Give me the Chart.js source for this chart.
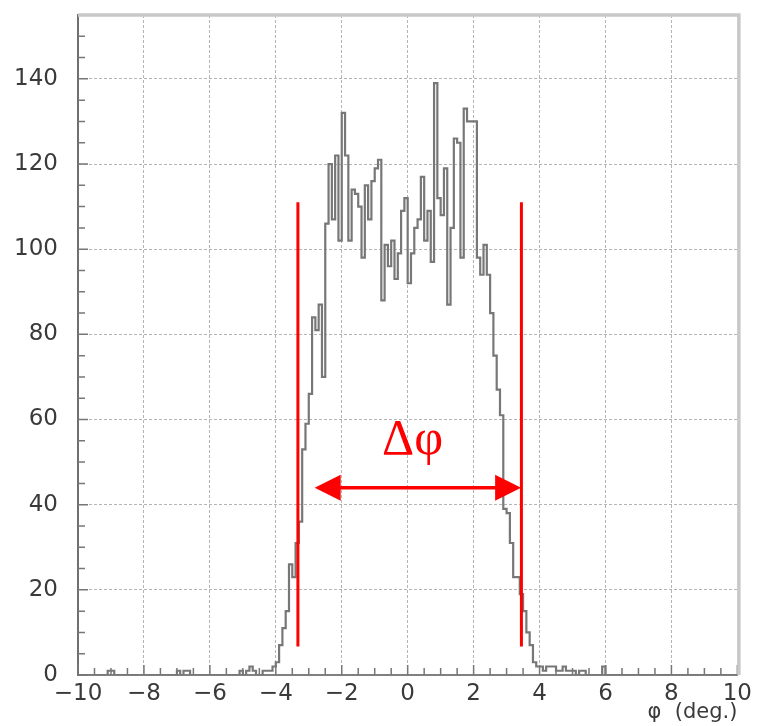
<!DOCTYPE html>
<html lang="en">

<head>
    <meta charset="UTF-8">
    <title>phi distribution</title>
    <style>
        html, body { margin: 0; padding: 0; background: #fff; }
        canvas { display: block; }
    </style>
</head>

<body>
    <script src="https://cdn.jsdelivr.net/npm/chart.js"></script>
    <canvas id="doThi" width="757" height="726"></canvas>
    <script>
        // histogram: 200 bins of 0.1 deg, from -10 to 10
        const binStart = -10;
        const binWidth = 0.1;
        const counts = [
            0, 0, 0, 0, 0, 0, 0, 0, 0, 0,           // -10.0 .. -9.1
            1, 1, 0, 0, 0, 0, 0, 0, 0, 0,           // -9.0 .. -8.1
            0, 0, 0, 0, 0, 0, 0, 0, 0, 0,           // -8.0 .. -7.1
            0, 1, 0, 1, 1, 0, 0, 0, 0, 0,           // -7.0 .. -6.1
            0, 0, 0, 0, 0, 0, 0, 0, 0, 0,           // -6.0 .. -5.1
            1, 0, 1, 2, 1, 0, 0, 1, 1, 1,           // -5.0 .. -4.1
            2, 3, 7, 11, 15, 26, 23, 31, 36, 53,    // -4.0 .. -3.1
            59, 66, 84, 81, 87, 70, 106, 120, 107, 122, // -3.0 .. -2.1
            102, 132, 122, 102, 114, 113, 110, 98, 115, 107, // -2.0 .. -1.1
            116, 119, 121, 88, 101, 96, 102, 93, 99, 109,    // -1.0 .. -0.1
            112, 92, 99, 105, 107, 117, 102, 109, 97, 139,   // 0.0 .. 0.9
            112, 108, 119, 87, 105, 126, 125, 98, 133, 130,  // 1.0 .. 1.9
            130, 130, 98, 94, 101, 94, 85, 75, 67, 61,       // 2.0 .. 2.9
            39, 38, 31, 23, 23, 19, 15, 10, 7, 3,            // 3.0 .. 3.9
            2, 2, 1, 2, 2, 2, 1, 1, 2, 1,           // 4.0 .. 4.9
            1, 1, 0, 1, 1, 0, 0, 0, 0, 0,           // 5.0 .. 5.9
            2, 0, 0, 0, 0, 0, 0, 0, 0, 0,           // 6.0 .. 6.9
            0, 0, 0, 0, 0, 0, 0, 0, 0, 0,           // 7.0 .. 7.9
            0, 0, 0, 0, 0, 0, 0, 0, 0, 0,           // 8.0 .. 8.9
            0, 0, 0, 0, 0, 0, 0, 0, 0, 0            // 9.0 .. 9.9
        ];

        // red markers for the width
        const cutX = [-3.33, 3.45];
        const cutY = [6.7, 111];
        const arrowX = [-2.82, 3.44];
        const arrowY = 44;
        const deltaLabel = 'Δφ';
        const deltaPos = [0.15, 55];

        const xTitle = 'φ  (deg.)';

        // step points: left edge of each bin + closing edge
        let histPoints = [];
        for (let i = 0; i < counts.length; i++) {
            histPoints.push({ x: +(binStart + i * binWidth).toFixed(2), y: counts[i] });
        }
        histPoints.push({ x: +(binStart + counts.length * binWidth).toFixed(2), y: counts[counts.length - 1] });

        function fmt(v) {
            return v < 0 ? '\u2212' + Math.abs(v) : '' + v;
        }
        function isMul(v, m) {
            let r = Math.abs(v / m - Math.round(v / m));
            return r < 1e-6;
        }

        const frameAndNotes = {
            id: 'frameAndNotes',
            beforeDatasetsDraw(chart) {
                const ctx = chart.ctx;
                const a = chart.chartArea;
                const xs = chart.scales.x, ys = chart.scales.y;
                ctx.save();
                // minor ticks inside the frame
                ctx.strokeStyle = '#777';
                ctx.lineWidth = 1.5;
                ctx.beginPath();
                xs.ticks.forEach(t => {
                    let px = xs.getPixelForValue(t.value);
                    ctx.moveTo(px, a.bottom);
                    ctx.lineTo(px, a.bottom - (isMul(t.value, 2) ? 10 : 7));
                });
                ys.ticks.forEach(t => {
                    let py = ys.getPixelForValue(t.value);
                    ctx.moveTo(a.left, py);
                    ctx.lineTo(a.left + (isMul(t.value, 20) ? 10 : 7), py);
                });
                ctx.stroke();
                // top / right frame
                ctx.strokeStyle = '#c8c8c8';
                ctx.lineWidth = 3.5;
                ctx.beginPath();
                ctx.moveTo(a.left, a.top);
                ctx.lineTo(a.right + 1.5, a.top);
                ctx.lineTo(a.right + 1.5, a.bottom);
                ctx.stroke();
                ctx.restore();
            },
            afterDatasetsDraw(chart) {
                const ctx = chart.ctx;
                const xs = chart.scales.x, ys = chart.scales.y;
                let x0 = xs.getPixelForValue(arrowX[0]);
                let x1 = xs.getPixelForValue(arrowX[1]);
                let y = ys.getPixelForValue(arrowY);
                let head = 26, half = 13;
                ctx.save();
                ctx.strokeStyle = '#ff0000';
                ctx.fillStyle = '#ff0000';
                ctx.lineWidth = 3.5;
                ctx.beginPath();
                ctx.moveTo(x0 + head - 2, y);
                ctx.lineTo(x1 - head + 2, y);
                ctx.stroke();
                ctx.beginPath();
                ctx.moveTo(x0, y);
                ctx.lineTo(x0 + head, y - half);
                ctx.lineTo(x0 + head, y + half);
                ctx.closePath();
                ctx.fill();
                ctx.beginPath();
                ctx.moveTo(x1, y);
                ctx.lineTo(x1 - head, y - half);
                ctx.lineTo(x1 - head, y + half);
                ctx.closePath();
                ctx.fill();
                ctx.font = '50px "Liberation Serif"';
                ctx.textAlign = 'center';
                ctx.textBaseline = 'middle';
                ctx.fillText(deltaLabel, xs.getPixelForValue(deltaPos[0]), ys.getPixelForValue(deltaPos[1]));
                ctx.restore();
            }
        };

        Chart.defaults.font.family = '"DejaVu Sans"';
        Chart.defaults.color = '#3a3a3a';

        let myChart = new Chart(document.getElementById('doThi'), {
            type: 'scatter',
            data: {
                datasets: [
                    {
                        data: histPoints,
                        showLine: true,
                        stepped: 'after',
                        borderColor: '#777777',
                        borderWidth: 2.2,
                        pointRadius: 0,
                        order: 2
                    },
                    {
                        data: [{ x: cutX[0], y: cutY[0] }, { x: cutX[0], y: cutY[1] }],
                        showLine: true,
                        borderColor: '#ff0000',
                        borderWidth: 3,
                        pointRadius: 0,
                        order: 1
                    },
                    {
                        data: [{ x: cutX[1], y: cutY[0] }, { x: cutX[1], y: cutY[1] }],
                        showLine: true,
                        borderColor: '#ff0000',
                        borderWidth: 3,
                        pointRadius: 0,
                        order: 1
                    }
                ]
            },
            options: {
                responsive: false,
                animation: false,
                layout: { padding: { left: 0, right: 19, top: 15, bottom: 0 } },
                plugins: { legend: { display: false }, tooltip: { enabled: false } },
                scales: {
                    x: {
                        type: 'linear',
                        min: -10,
                        max: 10,
                        afterFit: s => { s.height = 51; },
                        ticks: {
                            stepSize: 0.5,
                            autoSkip: false,
                            maxRotation: 0,
                            padding: 5,
                            font: { size: 23 },
                            callback: v => isMul(v, 2) ? fmt(Math.round(v)) : ''
                        },
                        grid: {
                            drawTicks: false,
                            lineWidth: 1,
                            color: c => (isMul(c.tick.value, 2) && Math.abs(c.tick.value) < 10) ? '#b4b4b4' : 'rgba(0,0,0,0)'
                        },
                        border: { display: true, color: '#808080', width: 2, dash: [3, 2] },
                        title: {
                            display: true,
                            text: xTitle,
                            align: 'end',
                            font: { size: 21 },
                            padding: { top: 0, bottom: 1 }
                        }
                    },
                    y: {
                        min: 0,
                        max: 155,
                        afterFit: s => { s.width = 78; s.paddingTop = 0; s.paddingBottom = 0; },
                        ticks: {
                            stepSize: 5,
                            autoSkip: false,
                            padding: 20,
                            font: { size: 23 },
                            callback: v => isMul(v, 20) ? fmt(v) : ''
                        },
                        grid: {
                            drawTicks: false,
                            lineWidth: 1,
                            color: c => (isMul(c.tick.value, 20) && c.tick.value > 0) ? '#b4b4b4' : 'rgba(0,0,0,0)'
                        },
                        border: { display: true, color: '#707070', width: 2, dash: [3, 2] }
                    }
                }
            },
            plugins: [frameAndNotes]
        });
    </script>
</body>

</html>
